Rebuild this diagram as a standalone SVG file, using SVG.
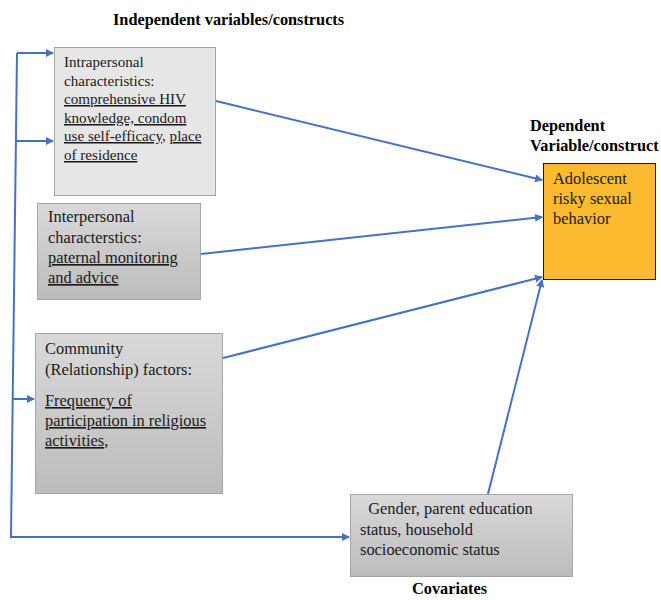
<svg xmlns="http://www.w3.org/2000/svg" width="661" height="600" viewBox="0 0 661 600" font-family="'Liberation Serif', serif">
<style>
text{font-family:'Liberation Serif','DejaVu Serif',serif;font-size:16.4px;fill:#1a1a1a}
.s{font-size:15.1px}
.b{font-weight:bold;font-size:16.3px;fill:#000}
.u{text-decoration:underline}
.box{stroke:#a6a6a6;stroke-width:1}
.c{fill:none;stroke:#4472c4;stroke-width:2}
</style>
<defs>
<linearGradient id="g" x1="0" y1="0" x2="0" y2="1">
<stop offset="0" stop-color="#d9d9d9"/>
<stop offset="1" stop-color="#bcbcbc"/>
</linearGradient>
<marker id="a" markerWidth="8" markerHeight="8" refX="7" refY="4" orient="auto" markerUnits="userSpaceOnUse">
<path d="M0,0 L8,4 L0,8 z" fill="#4472c4"/>
</marker>
</defs>
<rect width="661" height="600" fill="#fff"/>
<text class="b" x="113" y="25">Independent variables/constructs</text>
<text class="b" x="530" y="131">Dependent</text>
<text class="b" x="530" y="151">Variable/construct</text>
<text class="b" x="412" y="594">Covariates</text>
<g id="intrapersonal">
<rect class="box" x="54.5" y="47.5" width="161" height="148" fill="#e7e6e7"/>
<text class="s" x="64" y="67">Intrapersonal</text>
<text class="s" x="64" y="86">characteristics:</text>
<text class="s u" x="64" y="104">comprehensive HIV</text>
<text class="s u" x="64" y="123">knowledge, condom</text>
<text class="s" x="64" y="141"><tspan class="u">use self-efficacy</tspan>, <tspan class="u">place</tspan></text>
<text class="s u" x="64" y="160">of residence</text>
</g>
<g id="interpersonal">
<rect class="box" x="37.5" y="203.5" width="163" height="96" fill="url(#g)"/>
<text x="48" y="222">Interpersonal</text>
<text x="48" y="243">characterstics:</text>
<text x="48" y="263" class="u">paternal monitoring</text>
<text x="48" y="283" class="u">and advice</text>
</g>
<g id="community">
<rect class="box" x="35.5" y="333.5" width="187" height="160" fill="url(#g)"/>
<text x="45" y="354">Community</text>
<text x="45" y="375">(Relationship) factors:</text>
<text x="45" y="406" class="u">Frequency of</text>
<text x="45" y="426" class="u">participation in religious</text>
<text x="45" y="446"><tspan class="u">activities</tspan>,</text>
</g>
<g id="dependent">
<rect x="543.5" y="163.5" width="112" height="116" fill="#fbba30" stroke="#1a1a1a" stroke-width="1"/>
<text x="553" y="184">Adolescent</text>
<text x="553" y="204">risky sexual</text>
<text x="553" y="224">behavior</text>
</g>
<g id="covariates">
<rect class="box" x="350.5" y="494.5" width="222" height="82" fill="url(#g)"/>
<text x="360" y="514" xml:space="preserve">  Gender, parent education</text>
<text x="360" y="535">status, household</text>
<text x="360" y="555">socioeconomic status</text>
</g>
<g id="connectors">
<polyline class="c" points="17,53 11,537 349,537" marker-end="url(#a)"/>
<line class="c" x1="17" y1="53" x2="53" y2="53" stroke="#5b9bd5" marker-end="url(#a)"/>
<line class="c" x1="16" y1="141" x2="53" y2="141" marker-end="url(#a)"/>
<line class="c" x1="13" y1="399" x2="34" y2="399" marker-end="url(#a)"/>
<line class="c" x1="216" y1="101" x2="542" y2="180" marker-end="url(#a)"/>
<line class="c" x1="201" y1="254" x2="542" y2="217" marker-end="url(#a)"/>
<line class="c" x1="223" y1="358" x2="542" y2="277" marker-end="url(#a)"/>
<line class="c" x1="488" y1="494" x2="542" y2="280" marker-end="url(#a)"/>
</g>
</svg>
